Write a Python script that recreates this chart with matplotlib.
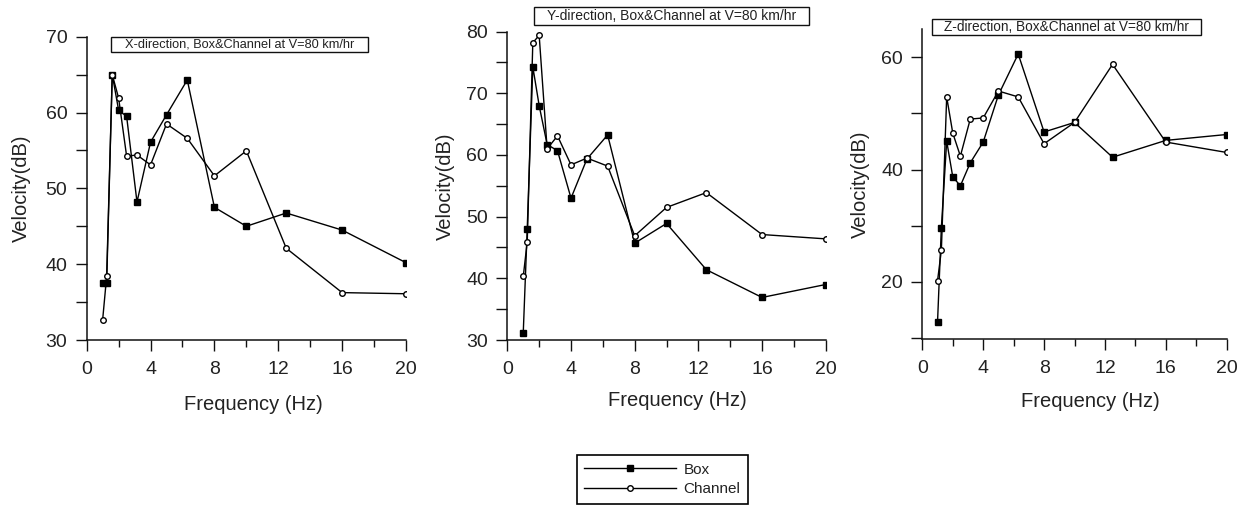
"""Velocity spectra for box and channel sections at V=80 km/hr.

Three panels (X, Y, Z direction) comparing the two sections
over the 1/3-octave frequency bands.
"""

import matplotlib
matplotlib.use("Agg")
import matplotlib.pyplot as plt
from matplotlib.ticker import MultipleLocator
from matplotlib.patches import Rectangle

plt.rcParams["font.family"] = ["Liberation Sans", "DejaVu Sans"]

# 1/3-octave band centre frequencies (Hz)
freq = [1.0, 1.25, 1.6, 2.0, 2.5, 3.15, 4.0, 5.0, 6.3, 8.0, 10.0, 12.5, 16.0, 20.0]

# velocity levels (dB)
x_box = [37.5, 37.5, 65.0, 60.3, 59.5, 48.2, 56.1, 59.7, 64.3, 47.5, 45.0, 46.75, 44.5, 40.2]
x_channel = [32.7, 38.4, 65.0, 61.9, 54.25, 54.4, 53.1, 58.5, 56.6, 51.65, 54.95, 42.1, 36.25, 36.1]

y_box = [31.2, 48.05, 74.3, 68.0, 61.7, 60.7, 53.0, 59.35, 63.25, 45.7, 48.9, 41.4, 36.9, 39.0]
y_channel = [40.3, 45.95, 78.2, 79.4, 61.0, 63.1, 58.4, 59.5, 58.2, 46.9, 51.5, 53.9, 47.1, 46.4]

z_box = [12.9, 29.6, 45.07, 38.7, 37.1, 41.2, 44.9, 53.3, 60.6, 46.7, 48.4, 42.2, 45.2, 46.25]
z_channel = [20.2, 25.6, 52.95, 46.5, 42.4, 49.0, 49.2, 54.0, 52.95, 44.6, 48.4, 58.75, 44.9, 43.05]

titles = [
    "X-direction, Box&Channel at V=80 km/hr",
    "Y-direction, Box&Channel at V=80 km/hr",
    "Z-direction, Box&Channel at V=80 km/hr",
]

TEXT = "#222222"


def style_axis(ax, ylim, ymajor, yminor):
    ax.set_xlim(0, 20)
    ax.set_ylim(*ylim)
    ax.xaxis.set_major_locator(MultipleLocator(4))
    ax.xaxis.set_minor_locator(MultipleLocator(2))
    ax.yaxis.set_major_locator(MultipleLocator(ymajor))
    ax.yaxis.set_minor_locator(MultipleLocator(yminor))
    for side in ("top", "right"):
        ax.spines[side].set_visible(False)
    for side in ("left", "bottom"):
        ax.spines[side].set_linewidth(1.1)
        ax.spines[side].set_color("#111111")
    ax.tick_params(which="both", direction="out", width=1.0, colors="#111111",
                   labelsize=14, labelcolor=TEXT)
    ax.tick_params(axis="x", which="major", length=8, pad=7)
    ax.tick_params(axis="x", which="minor", length=5)
    ax.tick_params(axis="y", which="both", length=8, pad=6)
    ax.set_xlabel("Frequency (Hz)", fontsize=14.5, color=TEXT)
    ax.set_ylabel("Velocity(dB)", fontsize=14.5, color=TEXT)


def add_title_box(ax, text, cx, cy, w, h, size):
    ax.add_patch(Rectangle((cx - w / 2, cy - h / 2), w, h, transform=ax.transAxes,
                           facecolor="white", edgecolor="#111111", linewidth=1.0,
                           clip_on=False, zorder=5))
    ax.text(cx, cy, text, transform=ax.transAxes, ha="center", va="center",
            fontsize=size, color=TEXT, zorder=6)


def plot_panel(ax, box, channel):
    l1, = ax.plot(freq, box, color="black", linewidth=1.0, marker="s",
                  markersize=5, markerfacecolor="black", label="Box", zorder=3)
    l2, = ax.plot(freq, channel, color="black", linewidth=1.0, marker="o",
                  markersize=4, markerfacecolor="white", markeredgewidth=1.0,
                  label="Channel", zorder=3)
    return l1, l2


fig = plt.figure(figsize=(12.53, 5.08), dpi=100)

ax1 = fig.add_axes([0.0692, 0.3307, 0.2548, 0.597])
ax2 = fig.add_axes([0.4049, 0.3307, 0.2541, 0.607])
ax3 = fig.add_axes([0.7361, 0.3327, 0.2429, 0.6096])

handles = plot_panel(ax1, x_box, x_channel)
plot_panel(ax2, y_box, y_channel)
plot_panel(ax3, z_box, z_channel)

style_axis(ax1, (30, 70), 10, 5)
style_axis(ax2, (30, 80), 10, 5)
style_axis(ax3, (9.8, 65), 20, 10)

# title boxes sit at slightly different places in each panel
add_title_box(ax1, titles[0], 0.4785, 0.974, 257 / 319.3, 15.6 / 303.3, 9.2)
add_title_box(ax2, titles[1], 0.516, 1.050, 275 / 318.4, 17.7 / 308.3, 10)
add_title_box(ax3, titles[2], 0.4737, 1.007, 269 / 304.4, 16 / 309.7, 9.8)

for ax, ylx, xlx, xly in [(ax1, -0.2036, 0.523, -0.214),
                          (ax2, -0.1957, 0.5346, -0.195),
                          (ax3, -0.2024, 0.551, -0.2025)]:
    ax.yaxis.set_label_coords(ylx, 0.5)
    ax.xaxis.set_label_coords(xlx, xly)
    ax.xaxis.label.set_va("center")
    ax.yaxis.label.set_va("center")

leg = fig.legend(handles, ["Box", "Channel"], loc="center",
                 bbox_to_anchor=(662.5 / 1253, 28.5 / 508), fontsize=11,
                 handlelength=6, handletextpad=0.5, labelspacing=0.35,
                 borderpad=0.5, fancybox=False, framealpha=1)
leg.get_frame().set_edgecolor("black")
leg.get_frame().set_linewidth(1.2)
for t in leg.get_texts():
    t.set_color(TEXT)

fig.savefig("out.png", dpi=100)
